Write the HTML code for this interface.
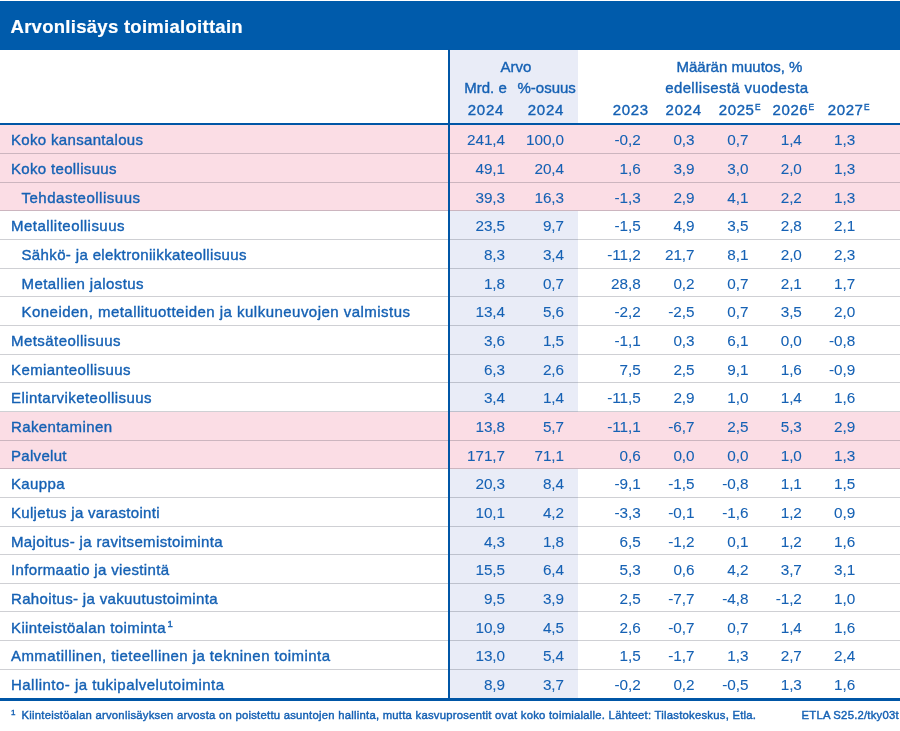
<!DOCTYPE html>
<html lang="fi"><head><meta charset="utf-8"><title>Arvonlisäys toimialoittain</title>
<style>
html,body{margin:0;padding:0;background:#fff;}
body{width:900px;height:731px;position:relative;overflow:hidden;font-family:"Liberation Sans",sans-serif;color:#1561b4;font-size:15px;-webkit-text-stroke:0.38px #1561b4;}
.hd{position:absolute;left:0;top:1px;width:900px;height:48.5px;background:#005bab;}
.hd span{position:absolute;left:10.5px;top:15px;font-weight:bold;font-size:18.5px;color:#fff;line-height:22px;white-space:nowrap;letter-spacing:0.28px;-webkit-text-stroke:0.2px #fff;}
.lav{position:absolute;left:450.4px;top:49.5px;width:128px;height:649px;background:#e9ecf7;}
.r{position:absolute;left:0;width:900px;height:28.65px;}
.r.p{background:#fbdde5;}
.r .l{position:absolute;left:11px;top:1.0px;line-height:28.65px;white-space:nowrap;}
.r .l.i{left:21.5px;}
.r .v{position:absolute;top:1.0px;line-height:28.65px;white-space:nowrap;text-align:right;font-size:15.3px;letter-spacing:-0.05px;-webkit-text-stroke:0.08px #1561b4;}
.g{position:absolute;left:0;width:900px;height:1px;background:rgba(30,35,50,0.21);}
.bl{position:absolute;left:0;width:900px;background:#0056a6;}
.vl{position:absolute;left:447.9px;top:49px;width:2.5px;height:650px;background:#0056a6;}
.h{position:absolute;white-space:nowrap;line-height:20px;}
.h.c{transform:translateX(-50%);}
.h sup{font-size:8.3px;position:relative;top:1.2px;vertical-align:top;line-height:12px;letter-spacing:0;margin-left:0.3px;}
.l sup{font-size:9.5px;vertical-align:top;position:relative;top:-4.3px;margin-left:1.6px;letter-spacing:0;}
.fn{position:absolute;font-size:11.3px;top:707.7px;line-height:14px;white-space:nowrap;-webkit-text-stroke:0.42px #1561b4;}
</style></head><body>
<div class="hd"><span>Arvonlisäys toimialoittain</span></div>
<div class="lav"></div>
<div class="r p" style="top:125.00px"><span class="l" style="letter-spacing:0.327px;top:1.30px">Koko kansantalous</span><span class="v" style="right:395.0px;top:1.30px">241,4</span><span class="v" style="right:336.0px;top:1.30px">100,0</span><span class="v" style="right:259.4px;top:1.30px">-0,2</span><span class="v" style="right:205.5px;top:1.30px">0,3</span><span class="v" style="right:151.6px;top:1.30px">0,7</span><span class="v" style="right:98.2px;top:1.30px">1,4</span><span class="v" style="right:44.8px;top:1.30px">1,3</span></div>
<div class="r p" style="top:153.65px"><span class="l" style="letter-spacing:0.328px;top:1.33px">Koko teollisuus</span><span class="v" style="right:395.0px;top:1.33px">49,1</span><span class="v" style="right:336.0px;top:1.33px">20,4</span><span class="v" style="right:259.4px;top:1.33px">1,6</span><span class="v" style="right:205.5px;top:1.33px">3,9</span><span class="v" style="right:151.6px;top:1.33px">3,0</span><span class="v" style="right:98.2px;top:1.33px">2,0</span><span class="v" style="right:44.8px;top:1.33px">1,3</span></div>
<div class="r p" style="top:182.30px"><span class="l i" style="letter-spacing:0.506px;top:1.36px">Tehdasteollisuus</span><span class="v" style="right:395.0px;top:1.36px">39,3</span><span class="v" style="right:336.0px;top:1.36px">16,3</span><span class="v" style="right:259.4px;top:1.36px">-1,3</span><span class="v" style="right:205.5px;top:1.36px">2,9</span><span class="v" style="right:151.6px;top:1.36px">4,1</span><span class="v" style="right:98.2px;top:1.36px">2,2</span><span class="v" style="right:44.8px;top:1.36px">1,3</span></div>
<div class="r" style="top:210.95px"><span class="l" style="letter-spacing:0.476px;top:1.38px">Metalliteollisuus</span><span class="v" style="right:395.0px;top:1.38px">23,5</span><span class="v" style="right:336.0px;top:1.38px">9,7</span><span class="v" style="right:259.4px;top:1.38px">-1,5</span><span class="v" style="right:205.5px;top:1.38px">4,9</span><span class="v" style="right:151.6px;top:1.38px">3,5</span><span class="v" style="right:98.2px;top:1.38px">2,8</span><span class="v" style="right:44.8px;top:1.38px">2,1</span></div>
<div class="r" style="top:239.60px"><span class="l i" style="letter-spacing:0.361px;top:1.41px">Sähkö- ja elektroniikkateollisuus</span><span class="v" style="right:395.0px;top:1.41px">8,3</span><span class="v" style="right:336.0px;top:1.41px">3,4</span><span class="v" style="right:259.4px;top:1.41px">-11,2</span><span class="v" style="right:205.5px;top:1.41px">21,7</span><span class="v" style="right:151.6px;top:1.41px">8,1</span><span class="v" style="right:98.2px;top:1.41px">2,0</span><span class="v" style="right:44.8px;top:1.41px">2,3</span></div>
<div class="r" style="top:268.25px"><span class="l i" style="letter-spacing:0.408px;top:1.44px">Metallien jalostus</span><span class="v" style="right:395.0px;top:1.44px">1,8</span><span class="v" style="right:336.0px;top:1.44px">0,7</span><span class="v" style="right:259.4px;top:1.44px">28,8</span><span class="v" style="right:205.5px;top:1.44px">0,2</span><span class="v" style="right:151.6px;top:1.44px">0,7</span><span class="v" style="right:98.2px;top:1.44px">2,1</span><span class="v" style="right:44.8px;top:1.44px">1,7</span></div>
<div class="r" style="top:296.90px"><span class="l i" style="letter-spacing:0.471px;top:1.47px">Koneiden, metallituotteiden ja kulkuneuvojen valmistus</span><span class="v" style="right:395.0px;top:1.47px">13,4</span><span class="v" style="right:336.0px;top:1.47px">5,6</span><span class="v" style="right:259.4px;top:1.47px">-2,2</span><span class="v" style="right:205.5px;top:1.47px">-2,5</span><span class="v" style="right:151.6px;top:1.47px">0,7</span><span class="v" style="right:98.2px;top:1.47px">3,5</span><span class="v" style="right:44.8px;top:1.47px">2,0</span></div>
<div class="r" style="top:325.55px"><span class="l" style="letter-spacing:0.436px;top:1.50px">Metsäteollisuus</span><span class="v" style="right:395.0px;top:1.50px">3,6</span><span class="v" style="right:336.0px;top:1.50px">1,5</span><span class="v" style="right:259.4px;top:1.50px">-1,1</span><span class="v" style="right:205.5px;top:1.50px">0,3</span><span class="v" style="right:151.6px;top:1.50px">6,1</span><span class="v" style="right:98.2px;top:1.50px">0,0</span><span class="v" style="right:44.8px;top:1.50px">-0,8</span></div>
<div class="r" style="top:354.20px"><span class="l" style="letter-spacing:0.406px;top:1.52px">Kemianteollisuus</span><span class="v" style="right:395.0px;top:1.52px">6,3</span><span class="v" style="right:336.0px;top:1.52px">2,6</span><span class="v" style="right:259.4px;top:1.52px">7,5</span><span class="v" style="right:205.5px;top:1.52px">2,5</span><span class="v" style="right:151.6px;top:1.52px">9,1</span><span class="v" style="right:98.2px;top:1.52px">1,6</span><span class="v" style="right:44.8px;top:1.52px">-0,9</span></div>
<div class="r" style="top:382.85px"><span class="l" style="letter-spacing:0.438px;top:1.55px">Elintarviketeollisuus</span><span class="v" style="right:395.0px;top:1.55px">3,4</span><span class="v" style="right:336.0px;top:1.55px">1,4</span><span class="v" style="right:259.4px;top:1.55px">-11,5</span><span class="v" style="right:205.5px;top:1.55px">2,9</span><span class="v" style="right:151.6px;top:1.55px">1,0</span><span class="v" style="right:98.2px;top:1.55px">1,4</span><span class="v" style="right:44.8px;top:1.55px">1,6</span></div>
<div class="r p" style="top:411.50px"><span class="l" style="letter-spacing:0.388px;top:1.58px">Rakentaminen</span><span class="v" style="right:395.0px;top:1.58px">13,8</span><span class="v" style="right:336.0px;top:1.58px">5,7</span><span class="v" style="right:259.4px;top:1.58px">-11,1</span><span class="v" style="right:205.5px;top:1.58px">-6,7</span><span class="v" style="right:151.6px;top:1.58px">2,5</span><span class="v" style="right:98.2px;top:1.58px">5,3</span><span class="v" style="right:44.8px;top:1.58px">2,9</span></div>
<div class="r p" style="top:440.15px"><span class="l" style="letter-spacing:0.304px;top:1.61px">Palvelut</span><span class="v" style="right:395.0px;top:1.61px">171,7</span><span class="v" style="right:336.0px;top:1.61px">71,1</span><span class="v" style="right:259.4px;top:1.61px">0,6</span><span class="v" style="right:205.5px;top:1.61px">0,0</span><span class="v" style="right:151.6px;top:1.61px">0,0</span><span class="v" style="right:98.2px;top:1.61px">1,0</span><span class="v" style="right:44.8px;top:1.61px">1,3</span></div>
<div class="r" style="top:468.80px"><span class="l" style="letter-spacing:0.356px;top:1.64px">Kauppa</span><span class="v" style="right:395.0px;top:1.64px">20,3</span><span class="v" style="right:336.0px;top:1.64px">8,4</span><span class="v" style="right:259.4px;top:1.64px">-9,1</span><span class="v" style="right:205.5px;top:1.64px">-1,5</span><span class="v" style="right:151.6px;top:1.64px">-0,8</span><span class="v" style="right:98.2px;top:1.64px">1,1</span><span class="v" style="right:44.8px;top:1.64px">1,5</span></div>
<div class="r" style="top:497.45px"><span class="l" style="letter-spacing:0.307px;top:1.66px">Kuljetus ja varastointi</span><span class="v" style="right:395.0px;top:1.66px">10,1</span><span class="v" style="right:336.0px;top:1.66px">4,2</span><span class="v" style="right:259.4px;top:1.66px">-3,3</span><span class="v" style="right:205.5px;top:1.66px">-0,1</span><span class="v" style="right:151.6px;top:1.66px">-1,6</span><span class="v" style="right:98.2px;top:1.66px">1,2</span><span class="v" style="right:44.8px;top:1.66px">0,9</span></div>
<div class="r" style="top:526.10px"><span class="l" style="letter-spacing:0.354px;top:1.69px">Majoitus- ja ravitsemistoiminta</span><span class="v" style="right:395.0px;top:1.69px">4,3</span><span class="v" style="right:336.0px;top:1.69px">1,8</span><span class="v" style="right:259.4px;top:1.69px">6,5</span><span class="v" style="right:205.5px;top:1.69px">-1,2</span><span class="v" style="right:151.6px;top:1.69px">0,1</span><span class="v" style="right:98.2px;top:1.69px">1,2</span><span class="v" style="right:44.8px;top:1.69px">1,6</span></div>
<div class="r" style="top:554.75px"><span class="l" style="letter-spacing:0.344px;top:1.72px">Informaatio ja viestintä</span><span class="v" style="right:395.0px;top:1.72px">15,5</span><span class="v" style="right:336.0px;top:1.72px">6,4</span><span class="v" style="right:259.4px;top:1.72px">5,3</span><span class="v" style="right:205.5px;top:1.72px">0,6</span><span class="v" style="right:151.6px;top:1.72px">4,2</span><span class="v" style="right:98.2px;top:1.72px">3,7</span><span class="v" style="right:44.8px;top:1.72px">3,1</span></div>
<div class="r" style="top:583.40px"><span class="l" style="letter-spacing:0.348px;top:1.75px">Rahoitus- ja vakuutustoiminta</span><span class="v" style="right:395.0px;top:1.75px">9,5</span><span class="v" style="right:336.0px;top:1.75px">3,9</span><span class="v" style="right:259.4px;top:1.75px">2,5</span><span class="v" style="right:205.5px;top:1.75px">-7,7</span><span class="v" style="right:151.6px;top:1.75px">-4,8</span><span class="v" style="right:98.2px;top:1.75px">-1,2</span><span class="v" style="right:44.8px;top:1.75px">1,0</span></div>
<div class="r" style="top:612.05px"><span class="l" style="letter-spacing:0.390px;top:1.78px">Kiinteistöalan toiminta<sup>1</sup></span><span class="v" style="right:395.0px;top:1.78px">10,9</span><span class="v" style="right:336.0px;top:1.78px">4,5</span><span class="v" style="right:259.4px;top:1.78px">2,6</span><span class="v" style="right:205.5px;top:1.78px">-0,7</span><span class="v" style="right:151.6px;top:1.78px">0,7</span><span class="v" style="right:98.2px;top:1.78px">1,4</span><span class="v" style="right:44.8px;top:1.78px">1,6</span></div>
<div class="r" style="top:640.70px"><span class="l" style="letter-spacing:0.428px;top:1.80px">Ammatillinen, tieteellinen ja tekninen toiminta</span><span class="v" style="right:395.0px;top:1.80px">13,0</span><span class="v" style="right:336.0px;top:1.80px">5,4</span><span class="v" style="right:259.4px;top:1.80px">1,5</span><span class="v" style="right:205.5px;top:1.80px">-1,7</span><span class="v" style="right:151.6px;top:1.80px">1,3</span><span class="v" style="right:98.2px;top:1.80px">2,7</span><span class="v" style="right:44.8px;top:1.80px">2,4</span></div>
<div class="r" style="top:669.35px"><span class="l" style="letter-spacing:0.470px;top:1.83px">Hallinto- ja tukipalvelutoiminta</span><span class="v" style="right:395.0px;top:1.83px">8,9</span><span class="v" style="right:336.0px;top:1.83px">3,7</span><span class="v" style="right:259.4px;top:1.83px">-0,2</span><span class="v" style="right:205.5px;top:1.83px">0,2</span><span class="v" style="right:151.6px;top:1.83px">-0,5</span><span class="v" style="right:98.2px;top:1.83px">1,3</span><span class="v" style="right:44.8px;top:1.83px">1,6</span></div>
<div class="g" style="top:153.05px"></div>
<div class="g" style="top:181.70px"></div>
<div class="g" style="top:210.35px"></div>
<div class="g" style="top:239.00px"></div>
<div class="g" style="top:267.65px"></div>
<div class="g" style="top:296.30px"></div>
<div class="g" style="top:324.95px"></div>
<div class="g" style="top:353.60px"></div>
<div class="g" style="top:382.25px"></div>
<div class="g" style="top:410.90px"></div>
<div class="g" style="top:439.55px"></div>
<div class="g" style="top:468.20px"></div>
<div class="g" style="top:496.85px"></div>
<div class="g" style="top:525.50px"></div>
<div class="g" style="top:554.15px"></div>
<div class="g" style="top:582.80px"></div>
<div class="g" style="top:611.45px"></div>
<div class="g" style="top:640.10px"></div>
<div class="g" style="top:668.75px"></div>
<div class="bl" style="top:122.6px;height:2.6px"></div>
<div class="bl" style="top:697.9px;height:2.8px"></div>
<div class="vl"></div>
<div class="h c" style="left:516.0px;top:56.6px;">Arvo</div>
<div class="h c" style="left:485.5px;top:77.9px;">Mrd. e</div>
<div class="h c" style="left:546.7px;top:77.9px;">%-osuus</div>
<div class="h c" style="left:485.9px;top:99.8px;letter-spacing:0.7px;">2024</div>
<div class="h c" style="left:545.9px;top:99.8px;letter-spacing:0.7px;">2024</div>
<div class="h c" style="left:739.4px;top:56.6px;">Määrän muutos, %</div>
<div class="h c" style="left:736.8px;top:77.9px;letter-spacing:0.36px;">edellisestä vuodesta</div>
<div class="h" style="left:612.7px;top:99.8px;letter-spacing:0.7px;">2023</div>
<div class="h" style="left:665.6px;top:99.8px;letter-spacing:0.7px;">2024</div>
<div class="h" style="left:718.8px;top:99.8px;letter-spacing:0.6px;">2025<sup>E</sup></div>
<div class="h" style="left:772.5px;top:99.8px;letter-spacing:0.6px;">2026<sup>E</sup></div>
<div class="h" style="left:827.8px;top:99.8px;letter-spacing:0.6px;">2027<sup>E</sup></div>
<div class="fn" style="left:11px;font-size:8px;top:705.5px">1</div>
<div class="fn" style="left:21.5px;letter-spacing:0.24px">Kiinteistöalan arvonlisäyksen arvosta on poistettu asuntojen hallinta, mutta kasvuprosentit ovat koko toimialalle. Lähteet: Tilastokeskus, Etla.</div>
<div class="fn" style="left:801.5px;letter-spacing:0.22px">ETLA S25.2/tky03t</div>
</body></html>
